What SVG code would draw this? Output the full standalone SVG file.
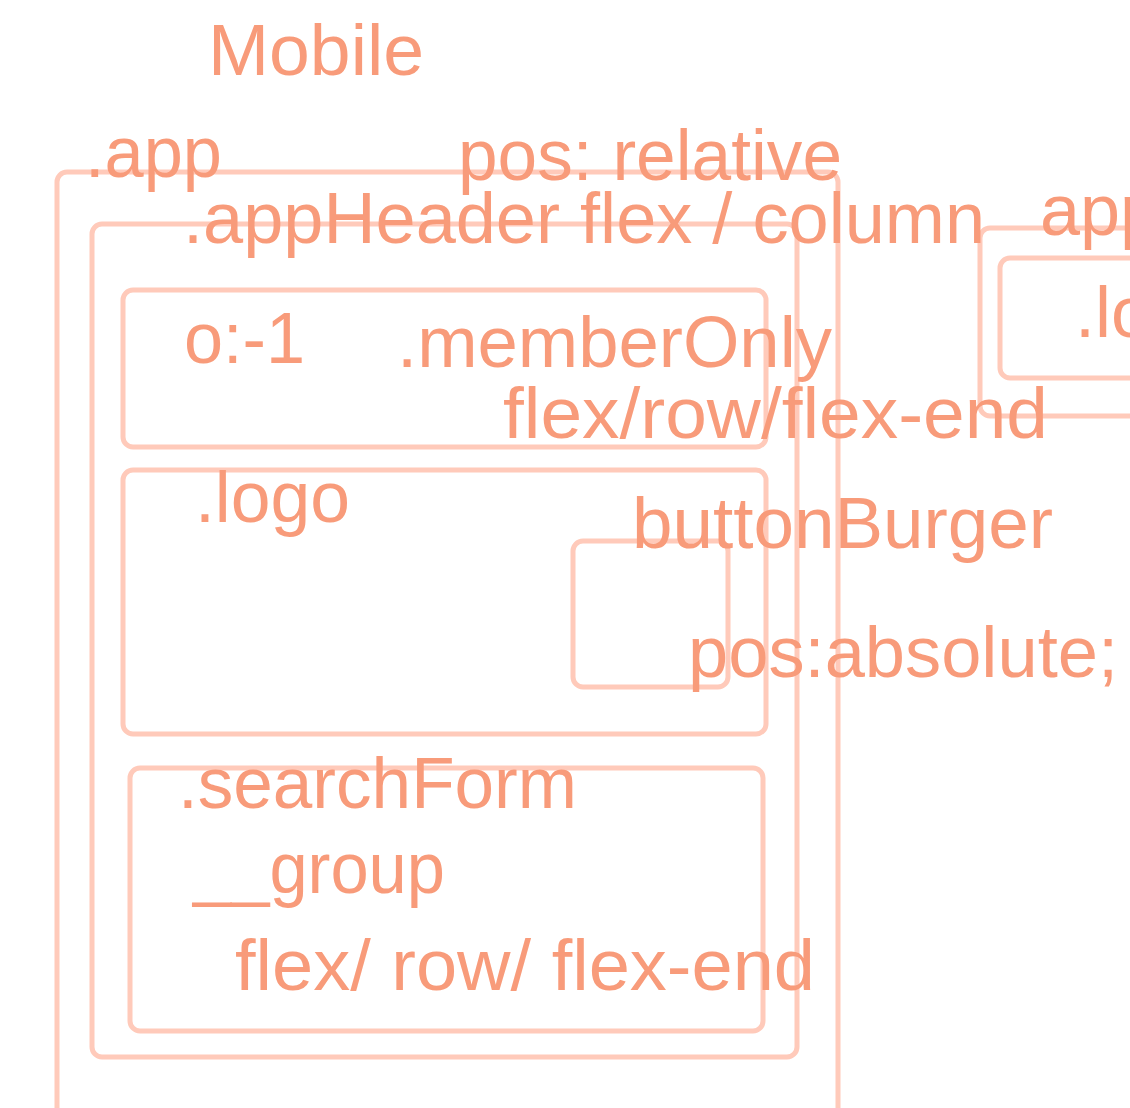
<svg xmlns="http://www.w3.org/2000/svg" width="1130" height="1108" viewBox="0 0 1130 1108">
<style>
.box{fill:none;stroke:#FFCABA;stroke-width:5}
.t{fill:#F89B7A;font-family:"Liberation Sans","Helvetica",Arial,sans-serif;font-size:72px}
</style>
<rect width="1130" height="1108" fill="#FFFFFF"/>
<g id="connectors"></g>
<g id="app"><rect class="box" x="57" y="172" width="781" height="1000" rx="10"/></g>
<g id="appHeader"><rect class="box" x="92" y="224" width="705" height="833" rx="10"/></g>
<g id="memberOnly"><rect class="box" x="123" y="290" width="643" height="157" rx="10"/></g>
<g id="logo"><rect class="box" x="123" y="470" width="643" height="264" rx="10"/></g>
<g id="buttonBurger"><rect class="box" x="573" y="541" width="155" height="146" rx="10"/></g>
<g id="searchForm"><rect class="box" x="130" y="768" width="633" height="263" rx="10"/></g>
<g id="appHeaderRight"><rect class="box" x="980" y="228" width="200" height="188" rx="10"/></g>
<g id="logoRight"><rect class="box" x="1000" y="258" width="180" height="120" rx="10"/></g>
<g id="labels">
<text class="t" x="208" y="75" textLength="216" lengthAdjust="spacingAndGlyphs">Mobile</text>
<text class="t" x="85" y="177" textLength="137" lengthAdjust="spacingAndGlyphs">.app</text>
<text class="t" x="458" y="180" textLength="384" lengthAdjust="spacingAndGlyphs">pos: relative</text>
<text class="t" x="183" y="243" textLength="802" lengthAdjust="spacingAndGlyphs">.appHeader flex / column</text>
<text class="t" x="1040" y="235">app</text>
<text class="t" x="1075" y="337">.lo</text>
<text class="t" x="184" y="363" textLength="121" lengthAdjust="spacingAndGlyphs">o:-1</text>
<text class="t" x="397" y="367" textLength="435" lengthAdjust="spacingAndGlyphs">.memberOnly</text>
<text class="t" x="503" y="438" textLength="545" lengthAdjust="spacingAndGlyphs">flex/row/flex-end</text>
<text class="t" x="195" y="522" textLength="155" lengthAdjust="spacingAndGlyphs">.logo</text>
<text class="t" x="632" y="548" textLength="421" lengthAdjust="spacingAndGlyphs">buttonBurger</text>
<text class="t" x="688" y="677" textLength="430" lengthAdjust="spacingAndGlyphs">pos:absolute;</text>
<text class="t" x="178" y="808" textLength="399" lengthAdjust="spacingAndGlyphs">.searchForm</text>
<text class="t" x="193" y="893" textLength="252" lengthAdjust="spacingAndGlyphs">__group</text>
<text class="t" x="235" y="990" textLength="580" lengthAdjust="spacingAndGlyphs">flex/ row/ flex-end</text>
</g>
</svg>
